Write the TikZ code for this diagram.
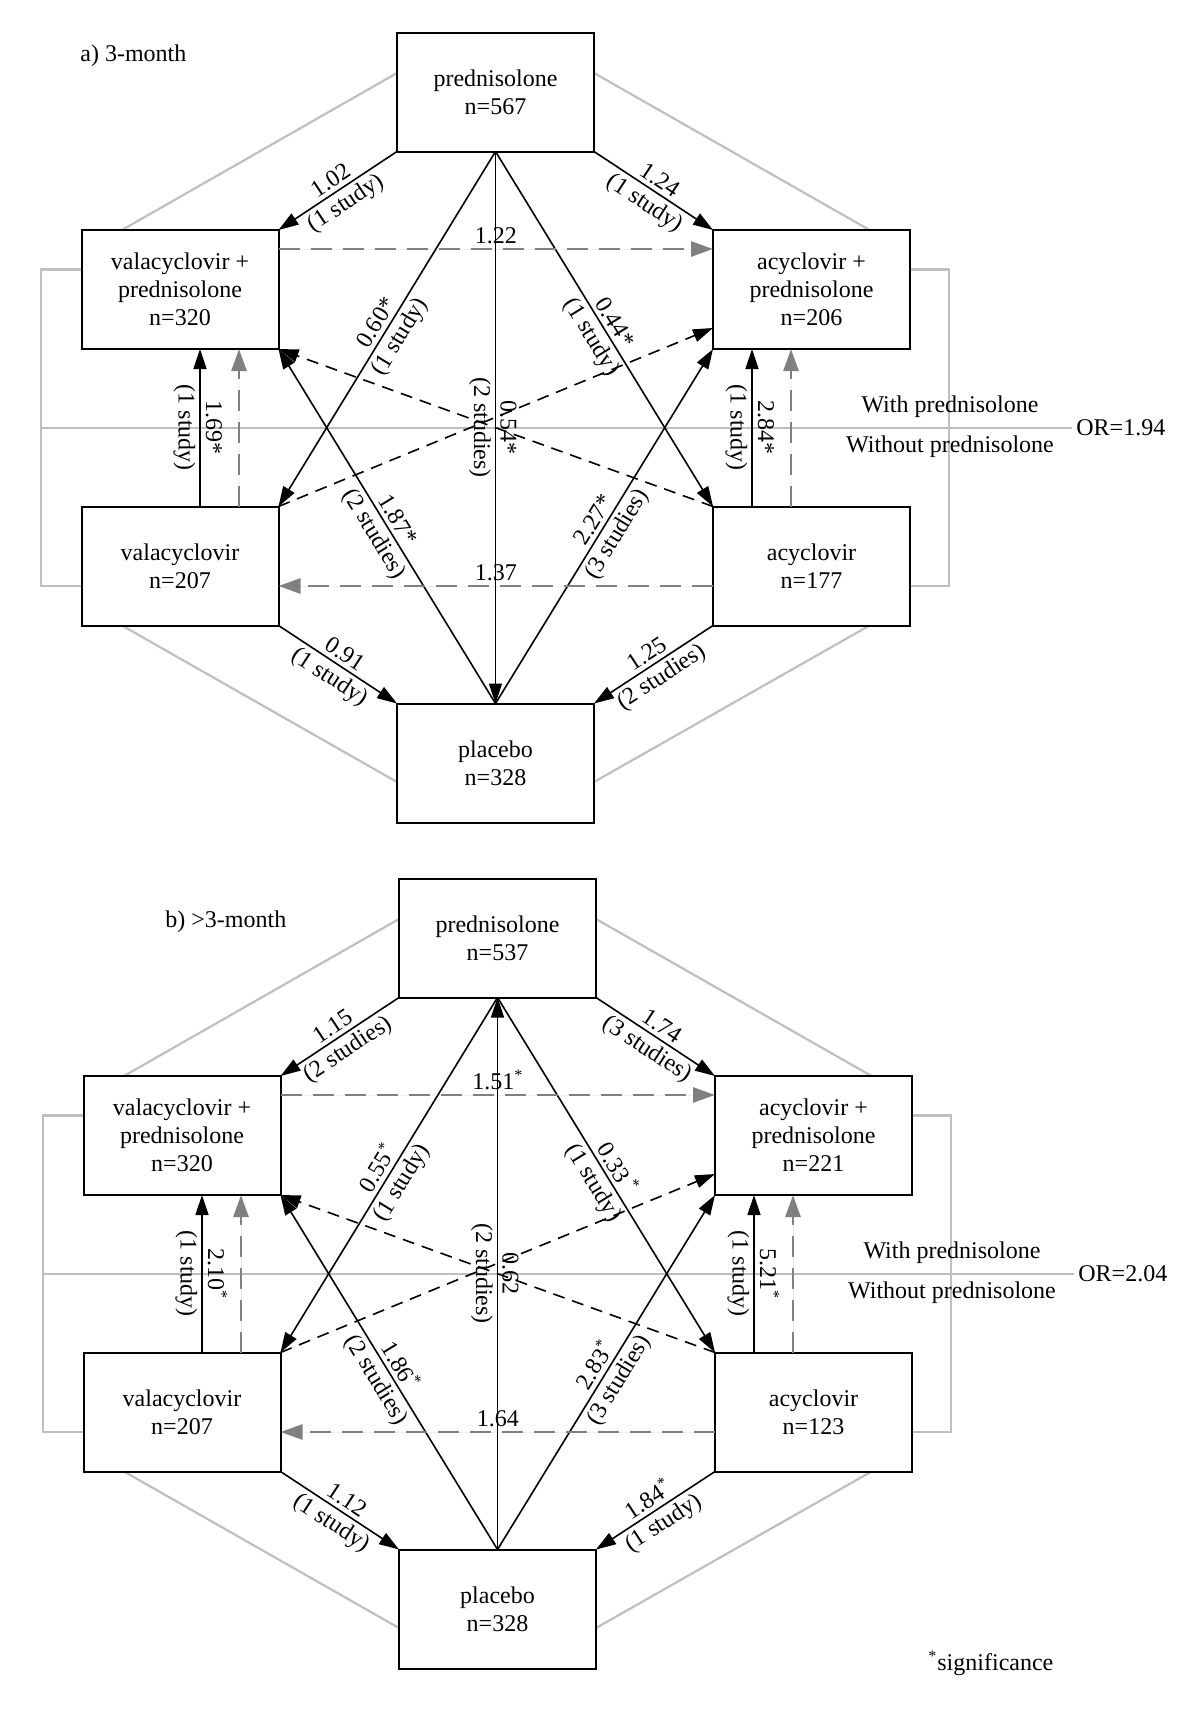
\documentclass[tikz,border=0pt]{standalone}
\usepackage{fontspec}
\setmainfont{Liberation Serif}
\usetikzlibrary{arrows.meta,calc,backgrounds}
\definecolor{gline}{HTML}{BFBFBF}
\definecolor{gdash}{HTML}{808080}
\newcommand\drawpanel[2]{%
\begin{scope}[shift={#2}, name prefix=#1-]
  \coordinate (Lc) at (41,427.7);
  \coordinate (Rc) at (949,427.7);
  \node[box] (P) at (495.5,92) {prednisolone\\n=\nP};
  \node[box] (VP) at (180,289.5) {valacyclovir +\\prednisolone\\n=\nVP};
  \node[box] (AP) at (811.5,289.5) {acyclovir +\\prednisolone\\n=\nAP};
  \node[box] (V) at (180,566) {valacyclovir\\n=\nV};
  \node[box] (A) at (811.5,566) {acyclovir\\n=\nA};
  \node[box] (PL) at (495.5,763) {placebo\\n=\nPL};
  \node[anchor=west, inner sep=2pt] (OR) at (1072,427.7) {OR=\ORv};
  \node (WP) at (950,407) {With prednisolone};
  \node (WOP) at (950,447) {Without prednisolone};
  \begin{scope}[on background layer]
  \draw[struct] ([yshift=9.5pt]P.west) -- ([xshift=-29pt]VP.north);
  \draw[struct] ([yshift=9.5pt]P.east) -- ([xshift=29pt]AP.north);
  \draw[struct] ([xshift=-29pt]V.south) -- ([yshift=-9.5pt]PL.west);
  \draw[struct] ([xshift=29pt]A.south) -- ([yshift=-9.5pt]PL.east);
  \draw[struct] ([yshift=10pt]VP.west) -| (Lc) |- ([yshift=-10pt]V.west);
  \draw[struct] ([yshift=10pt]AP.east) -| (Rc) |- ([yshift=-10pt]A.east);
  \draw[orline] (Lc) -- (OR.west);
  \end{scope}
  % black solid arrows
  \draw[conn] (P.south west) -- node[lab,above]{\eA} node[lab,below]{\sA} (VP.north east);
  \draw[conn] (P.south east) -- node[lab,above]{\eB} node[lab,below]{\sB} (AP.north west);
  \draw[conn] (P.south) -- node[lab,above]{\eC} node[lab,below]{\sC} (V.north east);
  \draw[conn] (P.south) -- node[lab,above]{\eD} node[lab,below]{\sD} (A.north west);
  \draw[conn] (\midFrom) -- node[rotate=-90,above,inner sep=2pt]{\eE} node[rotate=-90,below,inner sep=2pt]{\sE} (\midTo);
  \draw[conn] (PL.north) -- node[lab,above]{\eF} node[lab,below]{\sF} (VP.south east);
  \draw[conn] (PL.north) -- node[lab,above]{\eG} node[lab,below]{\sG} (AP.south west);
  \draw[conn] (V.south east) -- node[lab,above]{\eH} node[lab,below]{\sH} (PL.north west);
  \draw[conn] (A.south west) -- node[lab,above]{\eI} node[lab,below]{\sI} (PL.north east);
  \draw[conn] ([xshift=10pt]V.north) -- node[rotate=-90,below,inner sep=2pt]{\sJ} node[rotate=-90,above,inner sep=2.5pt]{\eJ} ([xshift=10pt]VP.south);
  \draw[conn] ([xshift=-29.75pt]A.north) -- node[rotate=-90,below,inner sep=2pt]{\sK} node[rotate=-90,above,inner sep=2.5pt]{\eK} ([xshift=-29.75pt]AP.south);
  % black dashed arrows
  \draw[dconn] (A.north west) -- (VP.south east);
  \draw[dconn] (V.north east) -- ([yshift=-19.25pt]AP.west);
  % grey dashed arrows
  \draw[gconn] ([yshift=20.25pt]VP.east) -- node[above,inner sep=2pt]{\eL} ([yshift=20.25pt]AP.west);
  \draw[gconn] ([yshift=-10pt]A.west) -- node[above,inner sep=2pt]{\eM} ([yshift=-10pt]V.east);
  \draw[gconn] ([xshift=29.5pt]V.north) -- ([xshift=29.5pt]VP.south);
  \draw[gconn] ([xshift=-10.25pt]A.north) -- ([xshift=-10.25pt]AP.south);
\end{scope}}
\begin{document}
\begin{tikzpicture}[x=0.5pt,y=-0.5pt,
  font=\fontsize{12}{14}\selectfont,
  box/.style={draw, line width=1pt, minimum width=98.5pt, minimum height=59.5pt,
    align=center, inner sep=0pt, outer sep=0pt, fill=white},
  conn/.style={line width=0.8pt, -{Triangle[length=10pt,width=6.5pt]}},
  dconn/.style={conn, dash pattern=on 6pt off 4pt},
  gconn/.style={line width=1.4pt, draw=gdash, dash pattern=on 10.5pt off 5.5pt,
    -{Triangle[length=11pt,width=7.5pt]}, fill=gdash},
  struct/.style={line width=1.1pt, draw=gline},
  orline/.style={line width=0.8pt, draw=gline},
  lab/.style={inner sep=2pt, sloped},
]
\useasboundingbox (0,0) rectangle (1200,1713);
% ---------- panel a ----------
\def\nP{567}\def\nVP{320}\def\nAP{206}\def\nV{207}\def\nA{177}\def\nPL{328}
\def\eA{1.02}\def\sA{(1 study)}
\def\eB{1.24}\def\sB{(1 study)}
\def\eC{0.60*}\def\sC{(1 study)}
\def\eD{0.44*}\def\sD{(1 study)}
\def\eE{0.54*}\def\sE{(2 studies)}
\def\eF{1.87*}\def\sF{(2 studies)}
\def\eG{2.27*}\def\sG{(3 studies)}
\def\eH{0.91}\def\sH{(1 study)}
\def\eI{1.25}\def\sI{(2 studies)}
\def\eJ{1.69*}\def\sJ{(1 study)}
\def\eK{2.84*}\def\sK{(1 study)}
\def\eL{1.22}\def\eM{1.37}\def\ORv{1.94}
\def\midFrom{P.south}\def\midTo{PL.north}
\drawpanel{a}{(0,0)}
\node[anchor=west, inner sep=0pt] (titleA) at (80,56) {a) 3-month};
% ---------- panel b ----------
\def\nP{537}\def\nVP{320}\def\nAP{221}\def\nV{207}\def\nA{123}\def\nPL{328}
\def\eA{1.15}\def\sA{(2 studies)}
\def\eB{1.74}\def\sB{(3 studies)}
\def\eC{0.55\textsuperscript{*}}\def\sC{(1 study)}
\def\eD{0.33\,\textsuperscript{*}}\def\sD{(1 study)}
\def\eE{0.62}\def\sE{(2 studies)}
\def\eF{1.86\textsuperscript{*}}\def\sF{(2 studies)}
\def\eG{2.83\textsuperscript{*}}\def\sG{(3 studies)}
\def\eH{1.12}\def\sH{(1 study)}
\def\eI{1.84\textsuperscript{*}}\def\sI{(1 study)}
\def\eJ{2.10\textsuperscript{*}}\def\sJ{(1 study)}
\def\eK{5.21\textsuperscript{*}}\def\sK{(1 study)}
\def\eL{1.51\textsuperscript{*}}\def\eM{1.64}\def\ORv{2.04}
\def\midFrom{PL.north}\def\midTo{P.south}
\drawpanel{b}{(2,846)}
\node[anchor=west, inner sep=0pt] (titleB) at (165,922) {b) >3-month};
\node[anchor=west, inner sep=0pt] (sig) at (928,1663) {\textsuperscript{*}significance};
\end{tikzpicture}
\end{document}
